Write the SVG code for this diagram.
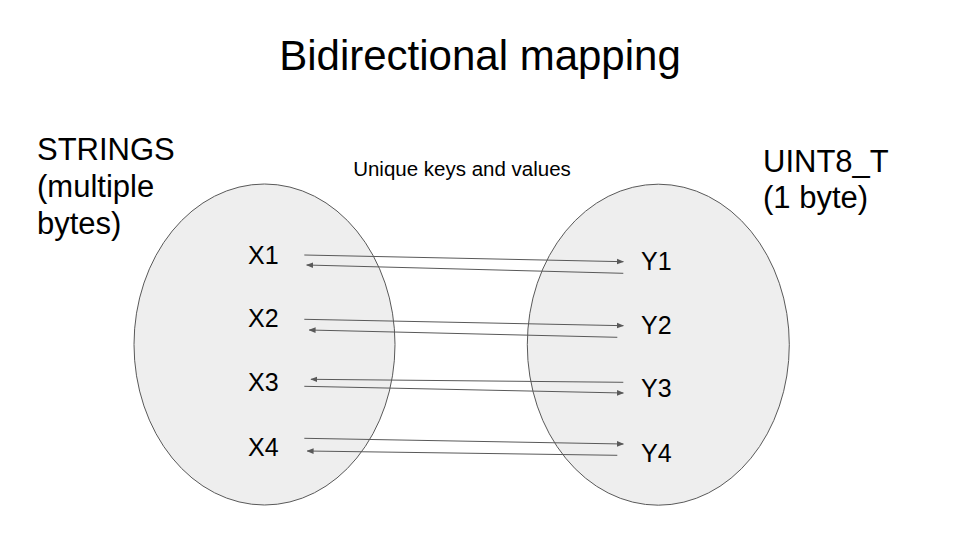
<svg xmlns="http://www.w3.org/2000/svg" width="960" height="540" viewBox="0 0 960 540">
<style>
text{font-family:"Liberation Sans",Arial,sans-serif;fill:#000}
.set{fill:#eeeeee;stroke:#595959;stroke-width:1}
.c{stroke:#595959;stroke-width:1;fill:none;marker-end:url(#ah)}
.lbl{font-size:25px}
.big{font-size:31px}
</style>
<defs>
<marker id="ah" viewBox="0 0 10 10" refX="9" refY="5" markerWidth="7" markerHeight="7" markerUnits="userSpaceOnUse" orient="auto">
<path d="M0,1 L10,5 L0,9 Z" fill="#595959"/>
</marker>
</defs>
<rect width="960" height="540" fill="#ffffff"/>
<text x="480" y="70" font-size="42" text-anchor="middle">Bidirectional mapping</text>
<g id="strings">
<ellipse class="set" cx="264.5" cy="344.5" rx="130.5" ry="160.5"/>
<text class="big" x="37" y="160">STRINGS</text>
<text class="big" x="37" y="197">(multiple</text>
<text class="big" x="37" y="234">bytes)</text>
</g>
<g id="uint8">
<ellipse class="set" cx="658.3" cy="344.7" rx="131" ry="160.5"/>
<text class="big" x="763" y="172">UINT8_T</text>
<text class="big" x="763" y="208">(1 byte)</text>
</g>
<text x="462" y="176" font-size="20.5" text-anchor="middle">Unique keys and values</text>
<g id="x1"><text class="lbl" x="248" y="264">X1</text></g>
<g id="x2"><text class="lbl" x="248" y="327">X2</text></g>
<g id="x3"><text class="lbl" x="248" y="391">X3</text></g>
<g id="x4"><text class="lbl" x="248" y="456">X4</text></g>
<g id="y1"><text class="lbl" x="641" y="270">Y1</text></g>
<g id="y2"><text class="lbl" x="641" y="334">Y2</text></g>
<g id="y3"><text class="lbl" x="641" y="397">Y3</text></g>
<g id="y4"><text class="lbl" x="641" y="462">Y4</text></g>
<g id="connectors">
<line class="c" x1="304.3" y1="255" x2="623.3" y2="261.7"/>
<line class="c" x1="623.3" y1="273.3" x2="306.7" y2="265"/>
<line class="c" x1="304.3" y1="319.3" x2="623.3" y2="325.7"/>
<line class="c" x1="617.3" y1="337.3" x2="309.3" y2="330"/>
<line class="c" x1="623.3" y1="382.3" x2="311" y2="379.3"/>
<line class="c" x1="304.3" y1="386.3" x2="623.3" y2="393"/>
<line class="c" x1="304.3" y1="438.3" x2="623.3" y2="444"/>
<line class="c" x1="617.3" y1="455.3" x2="307.3" y2="451"/>
</g>
</svg>
